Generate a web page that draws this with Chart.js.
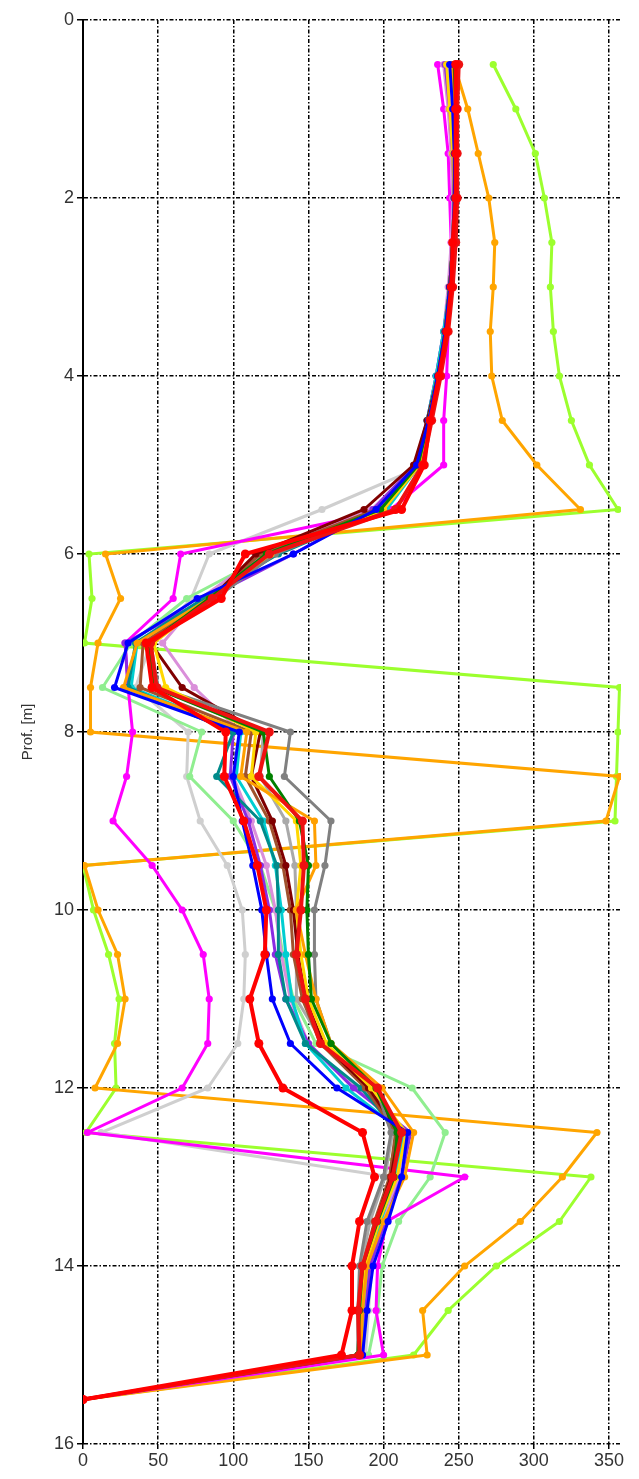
<!DOCTYPE html>
<html><head><meta charset="utf-8">
<script src="https://cdn.jsdelivr.net/npm/chart.js@4.4.1/dist/chart.umd.min.js"></script>
<style>html,body{margin:0;padding:0;background:#fff}#wrap{width:639px;height:1479px}</style>
</head><body><div id="wrap"><canvas id="c" width="639" height="1479"></canvas></div>
<script>
// depth of each reading (m)
const depths = [0.5,1,1.5,2,2.5,3,3.5,4,4.5,5,5.5,6,6.5,7,7.5,8,8.5,9,9.5,10,10.5,11,11.5,12,12.5,13,13.5,14,14.5,15,15.5];

// series values, one per depth
const redA = [248,248,248,248,246,245,242,237,231,227,212,108,92,42,46,95,94,107,116,122,121,111,117,133,186,194,184,179,179,172,0];
const redB = [250,249,249,249,248,246,243,238,232,226,208,124,86,45,49,124,117,146,147,145,142,148,158,196,212,206,195,186,183,184,0];
const blue = [244,246,247,247,246,244,241,236,230,222,195,140,76,30,21,104,100,106,113,119,122,126,138,169,216,212,203,193,189,186,0];
const green = [247,248,248,248,246,244,241,236,230,223,198,122,84,44,47,120,124,144,150,149,150,152,165,195,209,207,196,186,184,183,0];
const orangeB = [245,247,248,248,246,244,241,236,230,223,198,124,84,36,27,109,105,154,155,142,148,155,165,199,220,214,200,189,186,185,0];
const gold = [242,244,246,247,246,244,241,236,230,224,200,125,85,47,55,115,112,142,145,142,145,150,162,192,215,209,197,188,185,184,0];
const gray = [247,248,249,249,247,245,242,237,231,224,200,128,88,45,50,138,134,165,161,154,154,155,165,195,205,200,189,184,183,183,0];
const maroon = [247,248,248,248,246,244,241,236,229,220,187,115,85,45,66,118,112,126,135,140,143,148,160,190,210,205,195,187,185,184,0];
const sienna = [246,247,247,247,246,244,241,236,230,222,195,118,84,40,38,112,108,124,133,138,140,146,158,188,208,204,194,186,184,183,0];
const teal = [247,248,248,248,246,244,241,236,230,223,200,130,80,35,30,100,89,118,129,130,130,135,148,185,210,205,195,187,185,184,0];
const turquoise = [246,247,247,247,246,244,240,235,229,224,202,128,82,36,32,105,102,120,128,132,135,139,148,175,213,208,198,189,186,185,0];
const gray2 = [246,247,248,248,247,245,241,236,230,223,199,126,86,44,48,120,118,135,141,142,142,142,160,192,206,201,191,185,183,183,0];
const violetB = [241,244,246,247,246,244,240,235,229,221,193,140,82,28,30,100,98,110,118,124,128,135,150,180,218,212,201,191,188,186,0];
const plum = [240,243,245,246,245,243,240,235,229,222,192,120,78,53,74,105,100,112,122,128,132,138,150,182,214,210,200,190,187,186,0];
const magenta = [236,240,243,244,245,244,243,242,240,240,205,65,60,28,30,33,29,20,46,66,80,84,83,66,3,254,202,196,195,200,0];
const lightgreen = [246,247,248,248,247,245,241,236,229,222,198,125,69,32,13,79,71,100,118,128,133,140,155,219,241,231,210,199,196,190,0];
const lightgray = [245,246,247,247,246,244,240,235,229,228,159,84,72,45,35,70,69,78,96,106,108,107,103,83,12,205,200,192,190,188,0];
const orangeA = [247,256,263,270,274,273,271,272,279,302,331,15,25,10,5,5,357,348,1,10,23,28,23,8,342,319,291,254,226,229,0];
const lime = [273,288,301,307,312,311,313,317,325,337,356,4,6,1,357,356,355,354,0,7,17,24,21,22,2,338,317,275,243,220,0];

// tick labels
const xTicks = [0,50,100,150,200,250,300,350];
const yTicks = [0,2,4,6,8,10,12,14,16];

const series = [
  ['redA', redA, '#FF0000', 4],
  ['redB', redB, '#EE1111', 4],
  ['blue', blue, '#0000FF', 3],
  ['green', green, '#008000', 3],
  ['orangeB', orangeB, '#FF9F00', 3],
  ['gold', gold, '#FFD700', 3],
  ['gray', gray, '#808080', 3],
  ['maroon', maroon, '#800000', 3],
  ['sienna', sienna, '#A0522D', 3],
  ['teal', teal, '#008B8B', 3],
  ['turquoise', turquoise, '#00CED1', 3],
  ['gray2', gray2, '#A9A9A9', 3],
  ['violetB', violetB, '#8A2BE2', 3],
  ['plum', plum, '#DA8FDA', 3],
  ['magenta', magenta, '#FF00FF', 3],
  ['lightgreen', lightgreen, '#90EE90', 3],
  ['lightgray', lightgray, '#CFCFCF', 3],
  ['orangeA', orangeA, '#FFA500', 3],
  ['lime', lime, '#9CFF2E', 3]
];

const datasets = series.map(([label, vals, col, w]) => ({
  label,
  data: vals.map((v, i) => ({x: v, y: depths[i]})),
  borderColor: col,
  backgroundColor: col,
  pointBackgroundColor: col,
  pointBorderColor: col,
  pointBorderWidth: 0,
  pointRadius: w > 3 ? 4.5 : 3.6,
  borderWidth: w,
  tension: 0,
  fill: false
}));

const gridDash = [4, 2, 1.5, 2];
const tickFont = {family: "'Liberation Sans', Arial, sans-serif", size: 18};

new Chart(document.getElementById('c'), {
  type: 'line',
  data: {datasets},
  options: {
    responsive: false,
    animation: false,
    indexAxis: 'y',
    events: [],
    layout: {padding: {top: 20, right: 18, left: 0, bottom: 0}},
    plugins: {legend: {display: false}, tooltip: {enabled: false}},
    scales: {
      x: {
        type: 'linear', position: 'bottom', min: 0, max: 358,
        afterBuildTicks: s => { s.ticks = xTicks.map(v => ({value: v})); },
        afterFit: s => { s.height = 35; },
        grid: {color: '#000', lineWidth: 1.5, drawTicks: true, tickLength: 5, tickColor: '#000', tickWidth: 1.5, tickBorderDash: []},
        border: {display: false, dash: gridDash},
        ticks: {font: tickFont, color: '#333', padding: 1, maxRotation: 0, autoSkip: false}
      },
      y: {
        type: 'linear', position: 'left', reverse: true, min: 0, max: 16,
        afterBuildTicks: s => { s.ticks = yTicks.map(v => ({value: v})); },
        afterFit: s => { s.width = 83; },
        grid: {color: '#000', lineWidth: 1.5, drawTicks: true, tickLength: 6, tickColor: '#000', tickWidth: 1.5, tickBorderDash: []},
        border: {display: true, color: '#000', width: 2, dash: gridDash},
        ticks: {font: tickFont, color: '#333', padding: 3, autoSkip: false},
        title: {display: true, text: 'Prof. [m]', color: '#333', font: {family: "'Liberation Sans', Arial, sans-serif", size: 15}, padding: {top: 19, bottom: 0}}
      }
    }
  }
});
</script></body></html>
